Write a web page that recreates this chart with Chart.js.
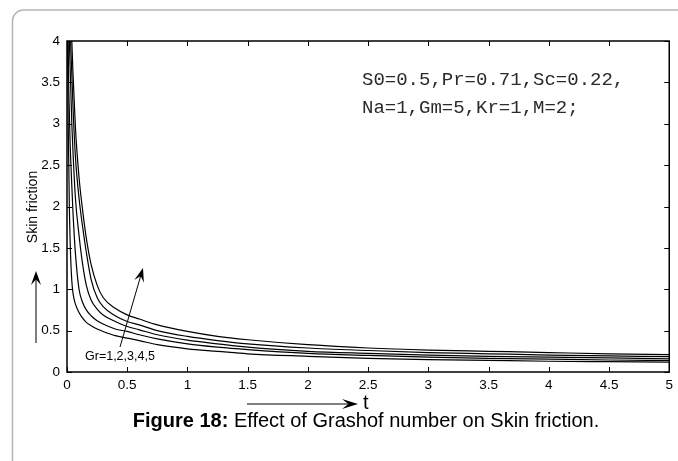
<!DOCTYPE html>
<html>
<head>
<meta charset="utf-8">
<script src="https://cdn.jsdelivr.net/npm/chart.js@4.4.1/dist/chart.umd.min.js"></script>
<style>
  html, body { margin: 0; padding: 0; background: #fff; }
  canvas { display: block; }
</style>
</head>
<body>
<canvas id="grafico" width="678" height="461"></canvas>
<script>
// tempo t
const tempos = [0.005, 0.01, 0.02, 0.03, 0.04, 0.05, 0.07, 0.1, 0.13, 0.16, 0.2, 0.25, 0.3, 0.4, 0.5, 0.6, 0.75, 1, 1.25, 1.5, 2, 2.5, 3, 3.5, 4, 4.5, 5];

// skin friction para Gr = 1..5
const gr1 = [4.0, 3.0, 1.95, 1.4, 1.1, 0.95, 0.82, 0.72, 0.65, 0.6, 0.56, 0.52, 0.49, 0.44, 0.41, 0.38, 0.33, 0.28, 0.25, 0.22, 0.19, 0.165, 0.15, 0.14, 0.13, 0.125, 0.12];
const gr2 = [5.5, 4.0, 3.1, 2.6, 2.25, 1.92, 1.43, 1.0, 0.84, 0.75, 0.68, 0.62, 0.58, 0.52, 0.49, 0.45, 0.4, 0.34, 0.3, 0.27, 0.225, 0.2, 0.18, 0.165, 0.155, 0.145, 0.14];
const gr3 = [6.0, 5.0, 4.0, 3.5, 3.0, 2.65, 2.1, 1.65, 1.3, 1.05, 0.87, 0.76, 0.69, 0.61, 0.55, 0.51, 0.45, 0.385, 0.34, 0.3, 0.25, 0.225, 0.205, 0.19, 0.18, 0.17, 0.16];
const gr4 = [7.0, 6.0, 4.7, 4.0, 3.6, 3.2, 2.6, 2.1, 1.75, 1.45, 1.12, 0.9, 0.79, 0.68, 0.61, 0.57, 0.5, 0.43, 0.38, 0.34, 0.29, 0.26, 0.235, 0.22, 0.205, 0.195, 0.185];
const gr5 = [8.0, 7.0, 5.5, 4.6, 4.0, 3.6, 2.95, 2.35, 1.95, 1.62, 1.3, 1.05, 0.9, 0.77, 0.69, 0.64, 0.57, 0.49, 0.43, 0.39, 0.33, 0.29, 0.265, 0.25, 0.235, 0.22, 0.21];

const ticksX = [0, 0.5, 1, 1.5, 2, 2.5, 3, 3.5, 4, 4.5, 5];
const ticksY = [0, 0.5, 1, 1.5, 2, 2.5, 3, 3.5, 4];

const series = [gr1, gr2, gr3, gr4, gr5];

const FONTE = '"Liberation Sans", Arial, sans-serif';

function seta(ctx, x1, y1, x2, y2, tam, larg) {
    const ang = Math.atan2(y2 - y1, x2 - x1);
    const c = Math.cos(ang), s = Math.sin(ang);
    ctx.beginPath();
    ctx.moveTo(x1, y1);
    ctx.lineTo(x2 - c * tam * 0.6, y2 - s * tam * 0.6);
    ctx.stroke();
    ctx.beginPath();
    ctx.moveTo(x2, y2);
    ctx.lineTo(x2 - c * tam - s * larg, y2 - s * tam + c * larg);
    ctx.lineTo(x2 - c * tam * 0.6, y2 - s * tam * 0.6);
    ctx.lineTo(x2 - c * tam + s * larg, y2 - s * tam - c * larg);
    ctx.closePath();
    ctx.fill();
}

const decoracao = {
    id: 'decoracao',
    afterDraw(chart) {
        const ctx = chart.ctx;
        const a = chart.chartArea;
        const sx = chart.scales.x, sy = chart.scales.y;
        ctx.save();

        // moldura da figura
        ctx.strokeStyle = '#b5b5b5';
        ctx.lineWidth = 1.5;
        ctx.beginPath();
        ctx.moveTo(12.5, 470);
        ctx.lineTo(12.5, 22);
        ctx.arcTo(12.5, 10, 24, 10, 11);
        ctx.lineTo(690, 10);
        ctx.stroke();

        // caixa do grafico
        ctx.strokeStyle = '#000';
        ctx.lineWidth = 1.5;
        ctx.strokeRect(a.left, a.top, a.right - a.left, a.bottom - a.top);

        ctx.lineWidth = 1;
        ticksX.forEach(v => {
            const px = Math.round(sx.getPixelForValue(v)) + 0.5;
            ctx.beginPath();
            ctx.moveTo(px, a.bottom); ctx.lineTo(px, a.bottom - 5);
            ctx.moveTo(px, a.top); ctx.lineTo(px, a.top + 5);
            ctx.stroke();
        });
        ticksY.forEach(v => {
            const py = Math.round(sy.getPixelForValue(v)) + 0.5;
            ctx.beginPath();
            ctx.moveTo(a.left, py); ctx.lineTo(a.left + 5, py);
            ctx.moveTo(a.right, py); ctx.lineTo(a.right - 5, py);
            ctx.stroke();
        });

        // parametros
        ctx.fillStyle = '#2a2a2a';
        ctx.font = '19px "Liberation Mono", "Courier New", monospace';
        ctx.textAlign = 'left';
        ctx.textBaseline = 'middle';
        ctx.fillText('S0=0.5,Pr=0.71,Sc=0.22,', 362, 80);
        ctx.fillText('Na=1,Gm=5,Kr=1,M=2;', 362, 108);

        // Gr
        ctx.fillStyle = '#000';
        ctx.font = '12.5px ' + FONTE;
        ctx.fillText('Gr=1,2,3,4,5', 85, 357);
        ctx.strokeStyle = '#000';
        ctx.lineWidth = 1;
        seta(ctx, 120, 347, 143, 268, 14, 5);

        // eixo y: titulo e seta
        ctx.save();
        ctx.translate(33, 207);
        ctx.rotate(-Math.PI / 2);
        ctx.textAlign = 'center';
        ctx.font = '14px ' + FONTE;
        ctx.fillText('Skin friction', 0, 0);
        ctx.restore();
        seta(ctx, 36, 343, 36, 271, 14, 5);

        // eixo x: seta e t
        ctx.lineWidth = 1.2;
        seta(ctx, 247, 404, 358, 404, 16, 5);
        ctx.font = '20px ' + FONTE;
        ctx.textAlign = 'left';
        ctx.fillText('t', 363, 403);

        // legenda da figura
        const parte1 = 'Figure 18:';
        const parte2 = ' Effect of Grashof number on Skin friction.';
        ctx.font = 'bold 20px ' + FONTE;
        const w1 = ctx.measureText(parte1).width;
        ctx.font = '20px ' + FONTE;
        const w2 = ctx.measureText(parte2).width;
        const x0 = 366 - (w1 + w2) / 2;
        ctx.font = 'bold 20px ' + FONTE;
        ctx.fillText(parte1, x0, 421);
        ctx.font = '20px ' + FONTE;
        ctx.fillText(parte2, x0 + w1, 421);

        ctx.restore();
    }
};

const ctx = document.getElementById('grafico').getContext('2d');

new Chart(ctx, {
    type: 'line',
    data: {
        datasets: series.map((vals, i) => ({
            label: 'Gr=' + (i + 1),
            data: tempos.map((t, j) => ({ x: t, y: vals[j] })),
            borderColor: '#000',
            borderWidth: 1.2,
            pointRadius: 0,
            fill: false,
            cubicInterpolationMode: 'monotone'
        }))
    },
    options: {
        responsive: false,
        animation: false,
        layout: { padding: { top: 41, right: 7, left: 0, bottom: 0 } },
        plugins: {
            legend: { display: false },
            tooltip: { enabled: false }
        },
        scales: {
            x: {
                type: 'linear',
                min: 0,
                max: 5,
                afterFit: (s) => { s.height = 89; },
                afterBuildTicks: (s) => { s.ticks = ticksX.map(v => ({ value: v })); },
                grid: { display: false, drawTicks: false },
                border: { display: false },
                ticks: {
                    color: '#000',
                    padding: 5,
                    font: { family: FONTE, size: 13.5 },
                    callback: (v) => String(v)
                }
            },
            y: {
                type: 'linear',
                min: 0,
                max: 4,
                afterFit: (s) => { s.width = 67; },
                afterBuildTicks: (s) => { s.ticks = ticksY.map(v => ({ value: v })); },
                grid: { display: false, drawTicks: false },
                border: { display: false },
                ticks: {
                    color: '#000',
                    padding: 7,
                    font: { family: FONTE, size: 13.5 },
                    callback: (v) => String(v)
                }
            }
        }
    },
    plugins: [decoracao]
});
</script>
</body>
</html>
